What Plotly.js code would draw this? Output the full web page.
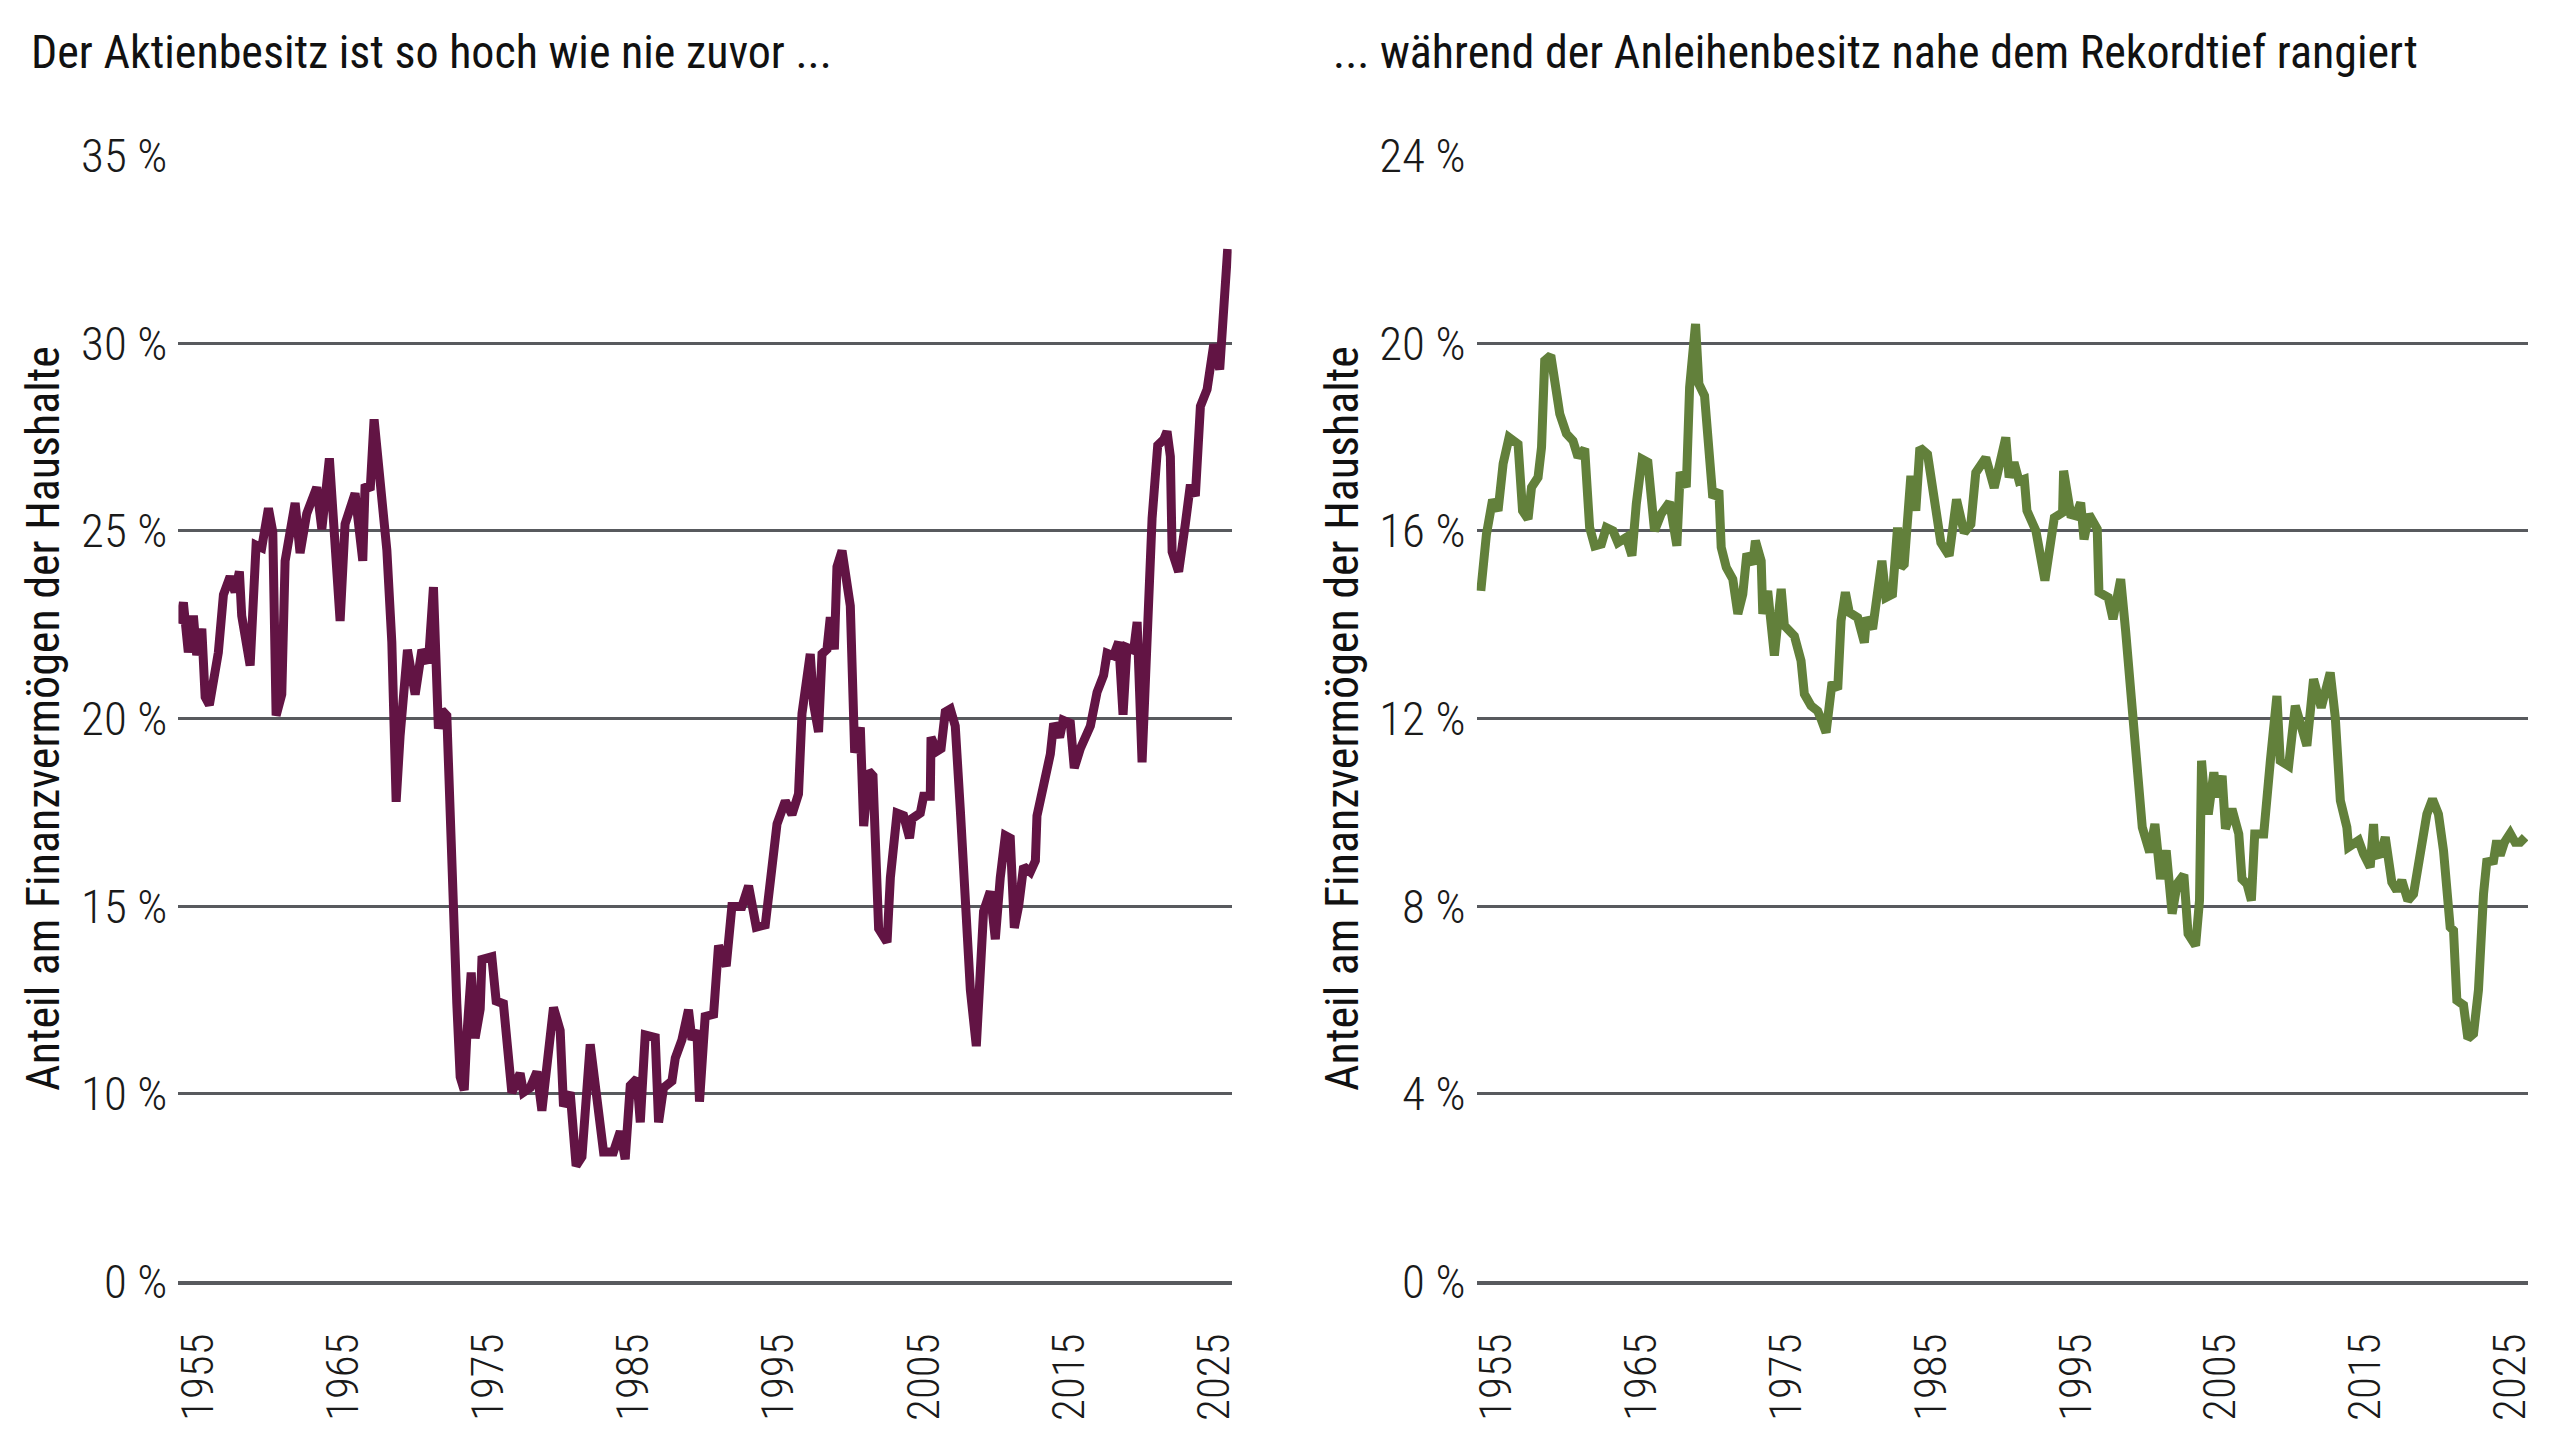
<!DOCTYPE html>
<html>
<head>
<meta charset="utf-8">
<script src="https://cdn.plot.ly/plotly-3.0.1.min.js"></script>
<style>
  html, body { margin: 0; padding: 0; background: #fff; }
  #myDiv { width: 2560px; height: 1440px; }
</style>
</head>
<body>
<div id="myDiv"></div>
<script>
// Aktien: Anteil am Finanzvermögen der Haushalte (%)
var stockYears = [1953.64, 1953.98, 1954.32, 1954.67, 1954.90, 1955.25, 1955.48, 1955.77, 1956.39, 1956.74,
  1957.20, 1957.54, 1957.84, 1958.00, 1958.58, 1958.99, 1959.38, 1959.84, 1960.14, 1960.37,
  1960.76, 1960.99, 1961.68, 1962.02, 1962.48, 1963.17, 1963.52, 1964.04, 1964.78, 1965.12,
  1965.81, 1966.34, 1966.50, 1966.85, 1967.12, 1967.54, 1968.00, 1968.34, 1968.64, 1968.91,
  1969.42, 1969.95, 1970.41, 1970.86, 1971.21, 1971.55, 1971.79, 1972.13, 1972.48, 1972.82,
  1973.05, 1973.33, 1973.51, 1973.81, 1974.08, 1974.43, 1974.55, 1975.23, 1975.53, 1976.03,
  1976.61, 1977.18, 1977.41, 1977.87, 1978.34, 1978.68, 1979.48, 1979.94, 1980.17, 1980.63,
  1981.04, 1981.44, 1982.01, 1982.93, 1983.61, 1984.08, 1984.42, 1984.77, 1985.23, 1985.46,
  1985.80, 1986.49, 1986.72, 1987.06, 1987.64, 1987.87, 1988.33, 1988.78, 1989.02, 1989.36,
  1989.54, 1989.93, 1990.51, 1990.85, 1991.38, 1991.77, 1992.46, 1992.92, 1993.45, 1994.07,
  1994.88, 1995.45, 1995.91, 1996.36, 1996.60, 1997.17, 1997.40, 1997.74, 1997.98, 1998.32,
  1998.55, 1998.83, 1999.01, 1999.36, 1999.93, 2000.23, 2000.62, 2000.85, 2001.19, 2001.49,
  2001.88, 2002.46, 2002.69, 2003.15, 2003.60, 2004.01, 2004.18, 2004.75, 2004.98, 2005.44,
  2005.49, 2005.90, 2006.18, 2006.47, 2006.82, 2007.16, 2007.51, 2007.85, 2008.20, 2008.61,
  2008.88, 2009.11, 2009.57, 2009.92, 2010.26, 2010.61, 2010.95, 2011.23, 2011.53, 2011.87,
  2012.33, 2012.68, 2012.79, 2013.25, 2013.71, 2013.94, 2014.35, 2014.59, 2015.09, 2015.36,
  2015.78, 2016.47, 2016.93, 2017.38, 2017.62, 2018.07, 2018.42, 2018.72, 2018.99, 2019.45,
  2019.69, 2020.03, 2020.38, 2020.72, 2021.11, 2021.52, 2021.75, 2021.98, 2022.10, 2022.55,
  2023.01, 2023.36, 2023.70, 2024.05, 2024.51, 2024.97, 2025.38, 2025.66, 2025.93];
var stockShare = [22.53, 23.09, 21.76, 22.74, 21.69, 22.39, 20.57, 20.36, 21.76, 23.30,
  23.78, 23.37, 23.92, 22.74, 21.41, 24.62, 24.55, 25.60, 24.97, 20.08,
  20.64, 24.20, 25.74, 24.41, 25.46, 26.16, 25.04, 26.93, 22.60, 25.18,
  26.00, 24.20, 26.23, 26.09, 27.97, 26.09, 24.48, 22.04, 17.78, 19.53,
  21.83, 20.64, 21.83, 21.48, 23.50, 19.73, 20.22, 20.08, 15.60, 12.40,
  10.45, 10.10, 11.55, 13.23, 11.48, 12.26, 13.58, 13.65, 12.47, 12.40,
  10.03, 10.55, 10.04, 10.16, 10.59, 9.55, 12.30, 11.69, 9.67, 10.04,
  8.08, 8.32, 11.32, 8.45, 8.45, 9.00, 8.26, 10.22, 10.40, 9.24,
  11.57, 11.50, 9.24, 10.16, 10.34, 10.95, 11.44, 12.24, 11.44, 11.69,
  9.79, 12.06, 12.12, 13.95, 13.40, 14.99, 14.99, 15.54, 14.44, 14.50,
  17.19, 17.80, 17.44, 17.99, 20.13, 21.72, 20.38, 19.64, 21.72, 21.84,
  22.70, 21.84, 24.04, 24.47, 23.00, 19.09, 19.76, 17.13, 18.60, 18.47,
  14.40, 14.04, 15.76, 17.48, 17.41, 16.81, 17.33, 17.48, 17.93, 17.93,
  19.50, 19.13, 19.20, 20.17, 20.25, 19.80, 17.56, 15.31, 12.77, 11.27,
  13.52, 14.86, 15.39, 14.12, 15.76, 16.88, 16.81, 14.42, 15.01, 16.06,
  15.91, 16.21, 17.41, 18.15, 19.05, 19.87, 19.50, 19.95, 19.87, 18.68,
  19.20, 19.80, 20.70, 21.15, 21.74, 21.67, 22.04, 20.10, 21.89, 21.82,
  22.57, 18.83, 22.19, 25.33, 27.28, 27.43, 27.65, 26.98, 24.44, 23.91,
  25.18, 26.23, 25.93, 28.32, 28.77, 29.97, 29.30, 31.17, 32.51];

// Anleihen: Anteil am Finanzvermögen der Haushalte (%)
var bondYears = [1953.93, 1954.32, 1954.74, 1955.12, 1955.47, 1955.88, 1956.50, 1956.81, 1957.19, 1957.43,
  1957.88, 1958.12, 1958.34, 1958.76, 1959.03, 1959.38, 1959.84, 1960.29, 1960.64, 1961.10,
  1961.44, 1961.79, 1962.25, 1962.59, 1963.05, 1963.39, 1963.97, 1964.36, 1964.66, 1965.05,
  1965.46, 1965.92, 1966.38, 1966.96, 1967.46, 1967.69, 1968.11, 1968.34, 1968.75, 1968.98,
  1969.37, 1969.71, 1969.94, 1970.36, 1970.52, 1970.87, 1971.32, 1971.67, 1972.01, 1972.29,
  1972.70, 1972.88, 1973.28, 1973.39, 1973.73, 1974.19, 1974.66, 1974.88, 1975.57, 1976.03,
  1976.26, 1976.72, 1977.18, 1977.41, 1977.76, 1978.17, 1978.56, 1978.79, 1979.09, 1979.36,
  1979.94, 1980.40, 1980.55, 1980.97, 1981.61, 1981.89, 1982.34, 1982.69, 1982.92, 1983.15,
  1983.61, 1983.95, 1984.23, 1984.76, 1985.34, 1985.68, 1986.25, 1986.76, 1987.29, 1987.75,
  1988.09, 1988.78, 1989.36, 1990.16, 1990.39, 1990.73, 1991.08, 1991.44, 1991.62, 1992.24,
  1992.86, 1993.51, 1994.08, 1994.15, 1994.64, 1994.99, 1995.33, 1995.56, 1995.90, 1996.47,
  1996.59, 1997.23, 1997.56, 1998.09, 1998.43, 1998.89, 1999.23, 1999.58, 2000.09, 2000.45,
  2000.84, 2001.23, 2001.64, 2001.99, 2002.45, 2002.74, 2003.26, 2003.53, 2003.67, 2003.95,
  2004.17, 2004.52, 2004.74, 2005.09, 2005.32, 2005.77, 2006.24, 2006.46, 2006.81, 2007.11,
  2007.34, 2007.96, 2008.42, 2008.87, 2009.10, 2009.68, 2010.14, 2010.94, 2011.40, 2011.93,
  2012.55, 2012.90, 2013.25, 2013.70, 2013.82, 2014.51, 2014.85, 2015.31, 2015.54, 2015.66,
  2016.00, 2016.35, 2016.80, 2017.15, 2017.49, 2017.91, 2018.30, 2018.76, 2019.22, 2019.61,
  2020.02, 2020.37, 2020.60, 2020.83, 2021.06, 2021.29, 2021.75, 2022.05, 2022.44, 2022.78,
  2023.13, 2023.35, 2023.82, 2024.04, 2024.28, 2024.57, 2024.97, 2025.31, 2025.66, 2026.00];
var bondShare = [14.72, 15.93, 16.66, 16.43, 17.43, 17.99, 17.85, 16.43, 16.25, 16.93,
  17.14, 17.78, 19.63, 19.74, 19.20, 18.49, 18.07, 17.92, 17.57, 17.75,
  16.07, 15.68, 15.72, 16.07, 16.00, 15.75, 15.86, 15.47, 16.57, 17.53,
  17.46, 16.00, 16.36, 16.61, 15.68, 17.25, 16.93, 19.06, 20.41, 19.13,
  18.88, 17.71, 16.71, 16.86, 15.65, 15.22, 14.97, 14.23, 14.65, 15.51,
  15.29, 15.79, 15.36, 14.23, 14.72, 13.34, 14.76, 13.98, 13.76, 13.23,
  12.52, 12.27, 12.16, 11.99, 11.70, 12.77, 12.62, 14.08, 14.69, 14.26,
  14.15, 13.62, 14.15, 13.91, 15.36, 14.58, 14.65, 16.07, 15.22, 15.29,
  17.17, 16.43, 17.77, 17.63, 16.57, 15.75, 15.47, 16.67, 15.96, 16.14,
  17.24, 17.56, 16.92, 17.99, 17.14, 17.46, 17.06, 17.10, 16.43, 16.00,
  14.94, 16.28, 16.39, 17.28, 16.35, 16.32, 16.60, 15.82, 16.35, 16.04,
  14.69, 14.58, 14.12, 14.97, 13.87, 12.24, 10.53, 9.68, 9.15, 9.75,
  8.58, 9.19, 7.84, 8.48, 8.67, 7.41, 7.16, 8.12, 11.10, 10.04,
  10.04, 10.85, 10.32, 10.78, 9.65, 10.07, 9.54, 8.58, 8.47, 8.12,
  9.54, 9.54, 11.10, 12.48, 11.10, 10.99, 12.27, 11.42, 12.84, 12.23,
  12.98, 12.02, 10.25, 9.68, 9.26, 9.40, 9.11, 8.83, 9.75, 9.08,
  9.11, 9.47, 8.51, 8.33, 8.55, 8.12, 8.26, 9.04, 9.96, 10.28,
  9.96, 9.18, 8.05, 7.55, 7.48, 5.99, 5.89, 5.18, 5.28, 6.21,
  8.26, 8.94, 8.97, 9.40, 9.08, 9.36, 9.55, 9.36, 9.36, 9.47];

var yearTicks = [1955, 1965, 1975, 1985, 1995, 2005, 2015, 2025];
// left axis is broken: the bottom gridline stands for 0 %, the others step by 5
var stockTickVals = [5, 10, 15, 20, 25, 30, 35];
var stockTickText = ['0 %', '10 %', '15 %', '20 %', '25 %', '30 %', '35 %'];
var bondTickVals = [0, 4, 8, 12, 16, 20, 24];
var bondTickText = ['0 %', '4 %', '8 %', '12 %', '16 %', '20 %', '24 %'];

var narrow = 'Roboto Condensed, Liberation Sans Narrow, DejaVu Sans Condensed, Arial Narrow, sans-serif';

var stockTrace = {
  x: stockYears, y: stockShare, type: 'scatter', mode: 'lines',
  line: {color: '#621444', width: 9},
  xaxis: 'x', yaxis: 'y', hoverinfo: 'skip'
};
var bondTrace = {
  x: bondYears, y: bondShare, type: 'scatter', mode: 'lines',
  line: {color: '#62803b', width: 9},
  xaxis: 'x2', yaxis: 'y2', hoverinfo: 'skip'
};

function xAxis(dom, anchor) {
  return {
    domain: dom, anchor: anchor, range: [1953.64, 2026.2],
    tickvals: yearTicks, tickangle: -90, ticks: '',
    showgrid: false, zeroline: false,
    showline: true, linecolor: '#585a5e', linewidth: 4,
    ticklabelstandoff: 30,
    tickfont: {family: narrow, size: 45, color: '#1a1a1a', weight: 300}
  };
}
function yAxis(anchor, range, vals, text) {
  return {
    domain: [0.1101, 0.8920], anchor: anchor, range: range,
    tickvals: vals, ticktext: text, ticks: '', showline: false, zeroline: false,
    gridcolor: '#585a5e', gridwidth: 3,
    ticklabelstandoff: 10,
    tickfont: {family: narrow, size: 47, color: '#1a1a1a', weight: 300},
    title: {text: 'Anteil am Finanzvermögen der Haushalte', standoff: 6,
            font: {family: narrow, size: 46, color: '#111'}}
  };
}

var layout = {
  width: 2560, height: 1440,
  margin: {l: 0, r: 0, t: 0, b: 0},
  paper_bgcolor: '#fff', plot_bgcolor: '#fff',
  showlegend: false,
  xaxis: xAxis([0.0697, 0.4811], 'y'),
  yaxis: yAxis('x', [5, 35], stockTickVals, stockTickText),
  xaxis2: xAxis([0.5768, 0.9875], 'y2'),
  yaxis2: yAxis('x2', [0, 24], bondTickVals, bondTickText),
  annotations: [
    {text: 'Der Aktienbesitz ist so hoch wie nie zuvor ...', xref: 'paper', yref: 'paper',
     x: 29 / 2560, y: 1 - 52 / 1440, xanchor: 'left', yanchor: 'middle', showarrow: false,
     font: {family: narrow, size: 46, color: '#111'}},
    {text: '... während der Anleihenbesitz nahe dem Rekordtief rangiert', xref: 'paper', yref: 'paper',
     x: 1331 / 2560, y: 1 - 52 / 1440, xanchor: 'left', yanchor: 'middle', showarrow: false,
     font: {family: narrow, size: 46, color: '#111'}}
  ]
};

Plotly.newPlot('myDiv', [stockTrace, bondTrace], layout, {displayModeBar: false, staticPlot: true});
</script>
</body>
</html>
